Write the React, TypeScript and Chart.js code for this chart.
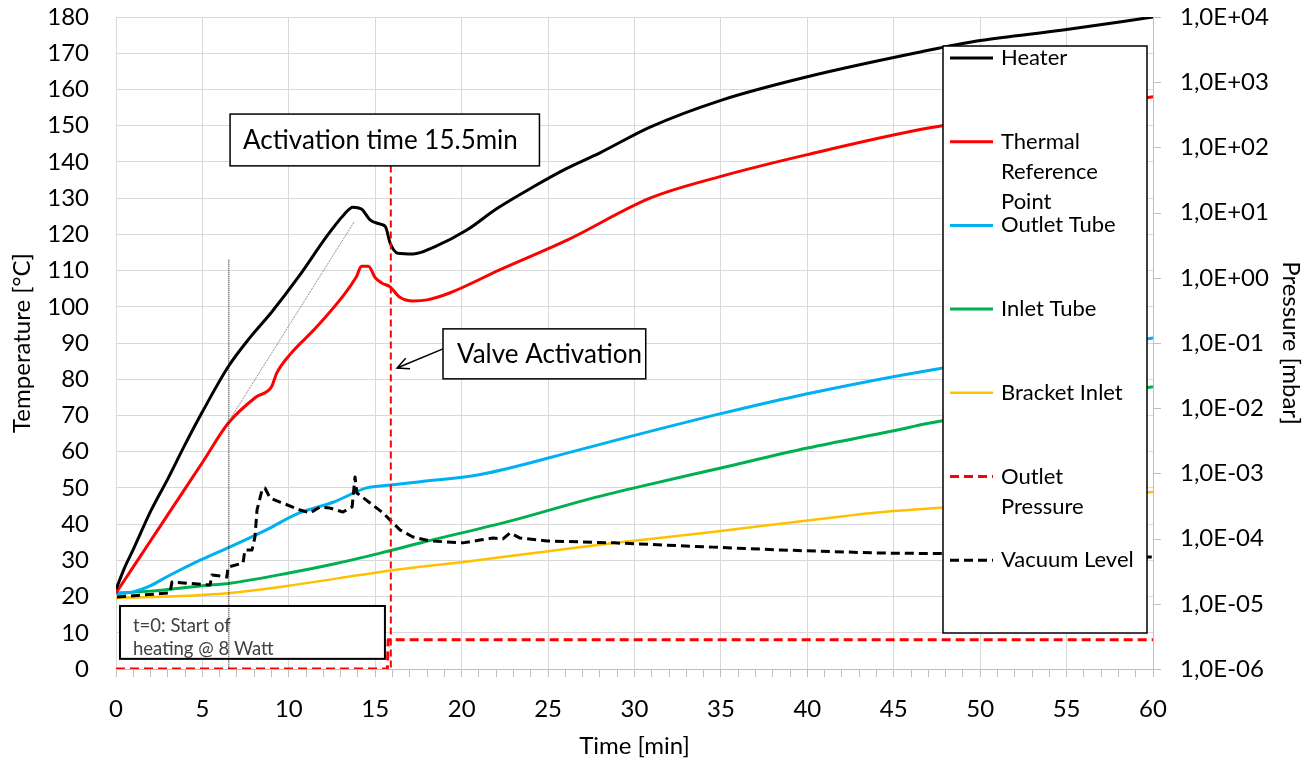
import React, { useEffect, useRef } from "react";
import { Chart, registerables } from "chart.js";

Chart.register(...registerables);

// ---------- data (time in min, temperature in °C, pressure in mbar) ----------
const heaterTime = [0, 0.5, 1, 2, 3, 4, 5, 6.5, 7.75, 9, 10.6, 12.2, 13.2, 13.7, 14.2, 14.7, 15.3, 15.6, 15.86, 16.3, 17.2, 18.4, 20.3, 22, 24.1, 26, 28, 30.9, 35, 40, 46.6, 50, 54.8, 60];
const heaterTemp = [22, 28, 33, 43.5, 52.5, 62, 71, 83.5, 91.5, 98.5, 108.5, 119.5, 125.5, 127.5, 127, 124, 122.8, 122, 117.6, 114.8, 114.6, 116.5, 121.2, 127, 133, 138, 142.5, 149.6, 157, 163.5, 170.4, 173.5, 176.4, 180];

const thermalTime = [0, 1, 2, 3, 4, 5, 6.5, 8.1, 9.0, 9.3, 10.1, 11.6, 13.9, 14.2, 14.6, 15.0, 15.4, 15.86, 16.4, 17.2, 18, 19.3, 22.2, 26.1, 30.9, 35, 40, 47.1, 60];
const thermalTemp = [21, 28.2, 35.4, 42.6, 49.8, 57, 67.9, 75.1, 77.9, 81.7, 87, 94.4, 108.2, 111.2, 111.2, 108, 106.5, 105.5, 102.7, 101.6, 101.9, 103.8, 110.2, 118.4, 130, 136, 142, 149.4, 158];

const outletTubeTime = [0, 1, 2, 3, 4.9, 6.6, 8.7, 10.6, 12.6, 14.5, 15.9, 17.6, 21, 26.8, 30, 35, 40, 47.1, 60];
const outletTubeTemp = [20.8, 21.3, 23, 25.6, 30.1, 33.7, 38.4, 43.1, 46.1, 50, 50.8, 51.7, 53.6, 60.5, 64.5, 70.5, 76, 82.5, 91.4];

const inletTubeTime = [0, 2, 5, 6.6, 10, 12.6, 15.3, 17.6, 23, 27.2, 30, 35, 40, 45, 47.1, 60];
const inletTubeTemp = [21, 21.5, 23, 23.7, 26.5, 29, 32, 34.8, 41.1, 46.7, 50, 55.5, 61, 65.8, 67.9, 77.9];

const bracketTime = [0, 3, 6.6, 10, 15.3, 17.6, 20, 25, 28.8, 34.5, 40, 44.2, 47.1, 60];
const bracketTemp = [19.6, 20, 21, 23, 26.8, 28.2, 29.5, 32.5, 34.8, 37.8, 41, 43.3, 44.3, 48.9];

const outletPressureTime = [0, 15.7, 15.75, 60];
const outletPressureValue = [1e-6, 1e-6, 2.8e-6, 2.8e-6];

const vacuumTime = [0.06, 3.12, 3.24, 5.44, 5.55, 6.42, 6.48, 7.35, 7.46, 7.87, 8.04, 8.16, 8.45, 8.62, 8.91, 9.49, 10.65, 11.22, 11.8, 12.38, 13.13, 13.66, 13.83, 13.94, 14.7, 15.45, 16.43, 17.18, 18.17, 19.15, 20.08, 21.06, 21.81, 22.39, 22.8, 23.38, 24.94, 26.85, 28.8, 34.5, 38.4, 44.2, 47.5, 60];
const vacuumPressure = [1.27e-5, 1.47e-5, 2.16e-5, 1.94e-5, 2.77e-5, 2.58e-5, 3.66e-5, 4.23e-5, 6.68e-5, 6.68e-5, 1.06e-4, 2.75e-4, 5.56e-4, 5.97e-4, 4.2e-4, 3.64e-4, 2.75e-4, 2.47e-4, 3.05e-4, 2.94e-4, 2.56e-4, 3.05e-4, 8.81e-4, 5.0e-4, 3.52e-4, 2.47e-4, 1.36e-4, 1.06e-4, 9.2e-5, 8.9e-5, 8.6e-5, 9.5e-5, 1.02e-4, 9.9e-5, 1.22e-4, 1.02e-4, 9.2e-5, 8.9e-5, 8.6e-5, 7.4e-5, 6.7e-5, 6.0e-5, 5.9e-5, 5.2e-5];

const pressureTickExponents = [-6, -5, -4, -3, -2, -1, 0, 1, 2, 3, 4];

const seriesNames = ["Heater", "Thermal Reference Point", "Outlet Tube", "Inlet Tube", "Bracket Inlet", "Outlet Pressure", "Vacuum Level"];
const legendLines = [["Heater"], ["Thermal", "Reference", "Point"], ["Outlet Tube"], ["Inlet Tube"], ["Bracket Inlet"], ["Outlet", "Pressure"], ["Vacuum Level"]];

// annotation anchors (data coordinates)
const activationTime = 15.9;
const activationLineTop = 139;
const activationLabel = "Activation time 15.5min";
const activationBox = { x0: 6.6, x1: 24.5, y0: 153.2, y1: 138.9 };
const valveLabel = "Valve Activation";
const valveBox = { x0: 18.92, x1: 30.65, y0: 93.9, y1: 80.1 };
const valveArrowTip = { x: 16.26, y: 83.1 };
const startLabel = ["t=0: Start of", "heating @ 8 Watt"];
const startBox = { x0: 0.23, x1: 15.56, y0: 17.4, y1: 2.8 };
const dottedLineTime = 6.5;
const dottedLineTop = 113;
const slopeLine = { x0: 6.5, y0: 68.2, x1: 13.8, y1: 123.6 };

const FONT = "Lato, 'Open Sans', sans-serif";

function expLabel(v: number) {
  const e = Math.round(Math.log10(v));
  const s = e < 0 ? "-" : "+";
  const a = Math.abs(e);
  return "1,0E" + s + (a < 10 ? "0" + a : String(a));
}

const colors = ["#000000", "#ff0000", "#00b0f0", "#00b050", "#ffc000", "#ff0000", "#000000"];
const dashes: number[][] = [[], [], [], [], [], [9, 5], [9, 5]];
const widths = [3, 3, 3, 3, 2.5, 3, 3];

const annotationPlugin = {
  id: "annotations",
  afterDatasetsDraw(chart: any) {
    const { ctx, scales } = chart;
    const x = scales.x;
    const y = scales.y;
    const y1 = scales.y1;
    const px = (v: number) => x.getPixelForValue(v);
    const py = (v: number) => y.getPixelForValue(v);
    const ca = chart.chartArea;
    ctx.save();

    // right axis outward tick marks
    ctx.strokeStyle = "#bfbfbf";
    ctx.lineWidth = 1;
    ctx.beginPath();
    y1.ticks.forEach((t: any) => {
      const yy = Math.round(y1.getPixelForValue(t.value)) + 0.5;
      ctx.moveTo(ca.right, yy);
      ctx.lineTo(ca.right + 8, yy);
    });
    ctx.stroke();

    // thin gray slope line
    ctx.strokeStyle = "#8c8c8c";
    ctx.lineWidth = 1;
    ctx.setLineDash([2, 1]);
    ctx.beginPath();
    ctx.moveTo(px(slopeLine.x0), py(slopeLine.y0));
    ctx.lineTo(px(slopeLine.x1), py(slopeLine.y1));
    ctx.stroke();

    // activation vertical line
    ctx.strokeStyle = "#ff0000";
    ctx.lineWidth = 2;
    ctx.setLineDash([7, 4]);
    ctx.beginPath();
    ctx.moveTo(px(activationTime), py(activationLineTop));
    ctx.lineTo(px(activationTime), py(0));
    ctx.stroke();
    ctx.setLineDash([]);

    const box = (b: any, lw: number) => {
      const l = px(b.x0), r = px(b.x1), t = py(b.y0), btm = py(b.y1);
      ctx.fillStyle = "#ffffff";
      ctx.fillRect(l, t, r - l, btm - t);
      ctx.strokeStyle = "#000000";
      ctx.lineWidth = lw;
      ctx.strokeRect(l, t, r - l, btm - t);
      return { l, r, t, btm };
    };

    // activation box
    let b = box(activationBox, 1.5);
    ctx.fillStyle = "#000000";
    ctx.font = `26px ${FONT}`;
    ctx.textBaseline = "middle";
    ctx.textAlign = "left";
    ctx.fillText(activationLabel, b.l + 13, (b.t + b.btm) / 2 + 1);

    // valve box + arrow
    b = box(valveBox, 1.5);
    ctx.fillStyle = "#000000";
    ctx.fillText(valveLabel, b.l + 14, (b.t + b.btm) / 2 + 1);
    const ax0 = b.l, ay0 = (b.t + b.btm) / 2 - 5;
    const ax1 = px(valveArrowTip.x), ay1 = py(valveArrowTip.y);
    ctx.strokeStyle = "#000000";
    ctx.lineWidth = 1.5;
    ctx.beginPath();
    ctx.moveTo(ax0, ay0);
    ctx.lineTo(ax1, ay1);
    const ang = Math.atan2(ay0 - ay1, ax0 - ax1);
    const hl = 13;
    ctx.moveTo(ax1 + hl * Math.cos(ang - 0.45), ay1 + hl * Math.sin(ang - 0.45));
    ctx.lineTo(ax1, ay1);
    ctx.lineTo(ax1 + hl * Math.cos(ang + 0.45), ay1 + hl * Math.sin(ang + 0.45));
    ctx.stroke();

    // start box
    b = box(startBox, 2);
    ctx.fillStyle = "#404040";
    ctx.font = `18.5px ${FONT}`;
    ctx.fillText(startLabel[0], b.l + 13, b.t + 20);
    ctx.fillText(startLabel[1], b.l + 13, b.t + 43);

    // dotted vertical line
    ctx.strokeStyle = "#000000";
    ctx.lineWidth = 1;
    ctx.setLineDash([1, 1]);
    ctx.beginPath();
    ctx.moveTo(px(dottedLineTime) + 0.5, py(dottedLineTop));
    ctx.lineTo(px(dottedLineTime) + 0.5, py(0));
    ctx.stroke();
    ctx.setLineDash([]);

    // legend
    const lgL = ca.right - 210, lgT = ca.top + 29, lgR = ca.right - 6, lgB = ca.top + 616;
    ctx.fillStyle = "#ffffff";
    ctx.fillRect(lgL, lgT, lgR - lgL, lgB - lgT);
    ctx.strokeStyle = "#000000";
    ctx.lineWidth = 1.5;
    ctx.strokeRect(lgL, lgT, lgR - lgL, lgB - lgT);
    ctx.font = `22px ${FONT}`;
    ctx.textBaseline = "middle";
    for (let i = 0; i < legendLines.length; i++) {
      const yy = lgT + 12 + i * 83.7;
      ctx.strokeStyle = colors[i];
      ctx.lineWidth = widths[i];
      ctx.setLineDash(dashes[i]);
      ctx.beginPath();
      ctx.moveTo(lgL + 7, yy);
      ctx.lineTo(lgL + 50, yy);
      ctx.stroke();
      ctx.setLineDash([]);
      ctx.fillStyle = "#000000";
      legendLines[i].forEach((t, k) => {
        ctx.fillText(t, lgL + 58, yy + k * 30);
      });
    }
    ctx.restore();
  },
};

function toXY(xs: number[], ys: number[]) {
  return xs.map((v, i) => ({ x: v, y: ys[i] }));
}

export default function App() {
  const ref = useRef<HTMLCanvasElement | null>(null);
  useEffect(() => {
    if (!ref.current) return;
    const mk = (i: number, xs: number[], ys: number[], axis: string, smooth: boolean, order = 0) => ({
      label: seriesNames[i],
      data: toXY(xs, ys),
      yAxisID: axis,
      borderColor: colors[i],
      backgroundColor: colors[i],
      borderWidth: widths[i],
      borderDash: dashes[i],
      borderJoinStyle: "round",
      pointRadius: 0,
      fill: false,
      cubicInterpolationMode: smooth ? "monotone" : "default",
      tension: 0,
      order,
    });
    const chart = new Chart(ref.current, {
      type: "line",
      data: {
        datasets: [
          mk(6, vacuumTime, vacuumPressure, "y1", false, -1),
          mk(0, heaterTime, heaterTemp, "y", true),
          mk(1, thermalTime, thermalTemp, "y", true),
          mk(2, outletTubeTime, outletTubeTemp, "y", true),
          mk(3, inletTubeTime, inletTubeTemp, "y", true),
          mk(4, bracketTime, bracketTemp, "y", true),
          mk(5, outletPressureTime, outletPressureValue, "y1", false),
        ] as any,
      },
      options: {
        animation: false,
        responsive: true,
        maintainAspectRatio: false,
        layout: { padding: { top: 17, left: 0, right: 0, bottom: 0 } },
        plugins: { legend: { display: false }, tooltip: { enabled: false } },
        scales: {
          x: {
            type: "linear",
            min: 0,
            max: 60,
            afterFit: (s: any) => { s.height = 92; },
            ticks: {
              stepSize: 1,
              autoSkip: false,
              maxRotation: 0,
              padding: 18,
              color: "#000000",
              font: { family: FONT, size: 24 },
              callback: (v: any) => (Number(v) % 5 === 0 ? String(v) : ""),
            },
            grid: {
              color: (c: any) => (c.tick && c.tick.value % 5 === 0 ? "#d9d9d9" : "rgba(0,0,0,0)"),
              tickColor: "#bfbfbf",
              tickLength: 8,
            },
            border: { color: "#bfbfbf" },
            title: { display: true, text: "Time [min]", color: "#000000", font: { family: FONT, size: 24 }, padding: { top: 0, bottom: 0 } },
          },
          y: {
            type: "linear",
            position: "left",
            min: 0,
            max: 180,
            afterFit: (s: any) => { s.width = 116; },
            ticks: { stepSize: 10, padding: 0, color: "#000000", font: { family: FONT, size: 24 } },
            grid: { color: "#d9d9d9", drawTicks: true, tickLength: 27, tickColor: "rgba(0,0,0,0)" },
            border: { color: "#d9d9d9" },
            title: { display: true, text: "Temperature [°C]", color: "#000000", font: { family: FONT, size: 24 }, padding: { top: 8, bottom: 0 } },
          },
          y1: {
            type: "logarithmic",
            position: "right",
            min: 1e-6,
            max: 1e4,
            afterFit: (s: any) => { s.width = 154; },
            afterBuildTicks: (s: any) => {
              s.ticks = pressureTickExponents.map((e) => ({ value: Number("1e" + e) }));
            },
            ticks: { padding: 0, color: "#000000", font: { family: FONT, size: 24 }, callback: (v: any) => expLabel(Number(v)) },
            grid: { drawOnChartArea: false, drawTicks: true, tickColor: "rgba(0,0,0,0)", tickLength: 27 },
            border: { color: "#bfbfbf" },
            title: { display: true, text: "Pressure [mbar]", color: "#000000", font: { family: FONT, size: 24 }, padding: { top: 2, bottom: 0 } },
          },
        },
      } as any,
      plugins: [annotationPlugin],
    });
    return () => chart.destroy();
  }, []);
  return (
    <div style={{ position: "absolute", left: 0, top: 0, width: 1307, height: 761, background: "#ffffff" }}>
      <canvas ref={ref} />
    </div>
  );
}
